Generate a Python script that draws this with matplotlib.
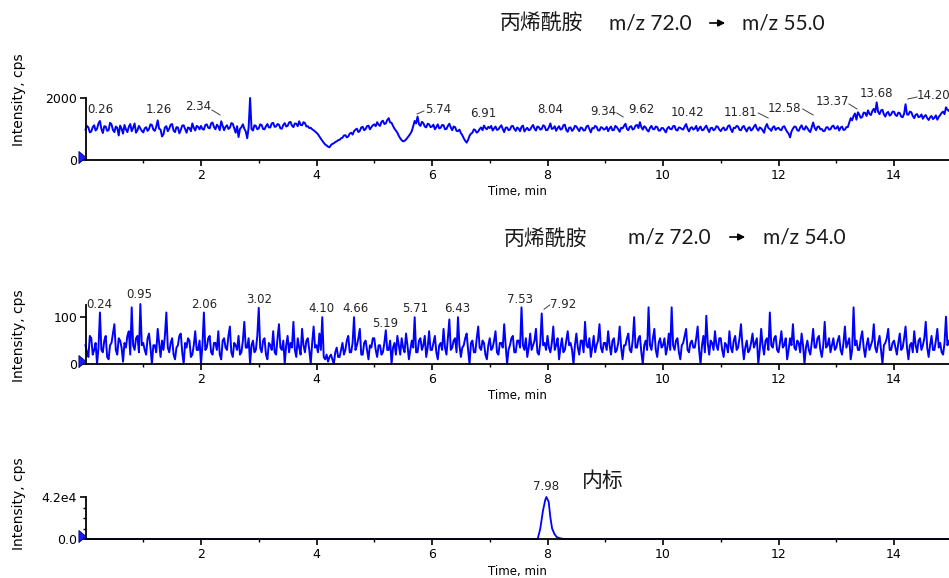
import numpy as np
import matplotlib
matplotlib.use('Agg')
import matplotlib.pyplot as plt
from matplotlib.patches import FancyArrowPatch
from matplotlib.ticker import FixedLocator
import matplotlib.transforms as mtransforms

# ---------------- data ----------------
DT = 0.025  # min, sampling interval of the typed traces (one row = 0.5 min)

trace1 = [  # m/z 72.0 -> 55.0, cps
    980, 1100, 1050, 890, 920, 1060, 1120, 950, 1010, 1180, 1260, 1000, 870, 1090, 1080, 940, 960, 1200, 1150, 970,
    900, 1080, 1040, 790, 1110, 1010, 850, 1130, 990, 900, 1070, 1160, 930, 1040, 1180, 880, 960, 1100, 1020, 940,
    890, 1020, 1060, 940, 1000, 1150, 1130, 980, 940, 1070, 1280, 1010, 980, 760, 830, 1050, 1090, 930, 1010, 1140,
    1160, 950, 900, 1060, 1050, 860, 970, 1110, 1120, 1000, 880, 1050, 1030, 930, 1180, 1040, 950, 1100, 1070, 990,
    1100, 1000, 980, 1130, 1150, 1040, 1020, 1180, 1210, 1060, 990, 1140, 1080, 960, 1250, 1110, 960, 1070, 1120, 1000,
    1040, 1190, 1170, 1030, 880, 1090, 740, 1000, 1060, 1150, 1010, 920, 700, 1050, 2000, 1000, 950, 1120, 1100, 990,
    1020, 1150, 1130, 1000, 990, 1090, 1160, 1050, 1050, 1180, 1200, 1070, 1080, 1160, 1140, 1020, 1010, 1130, 1190, 1080,
    1100, 1210, 1230, 1110, 1060, 1180, 1170, 1090, 1250, 1130, 1120, 1220, 1190, 1080, 1090, 1030, 1040, 990, 960, 920,
    880, 830, 760, 690, 620, 560, 500, 470, 430, 410, 480, 520, 540, 580, 600, 640, 650, 700, 720, 790,
    800, 730, 760, 850, 880, 820, 930, 980, 1010, 900, 940, 1050, 1070, 960, 1000, 1090, 1110, 990, 1060, 1120,
    1150, 1090, 1220, 1140, 1100, 1230, 1270, 1160, 1180, 1290, 1350, 1210, 1200, 1100, 1010, 950, 880, 780, 700, 640,
    600, 620, 660, 720, 780, 850, 930, 1100, 1260, 1180, 1400, 1150, 1100, 1230, 1190, 1080, 1050, 1170, 1150, 1060,
    1080, 1140, 990, 1060, 1150, 1020, 1040, 1130, 1120, 990, 1000, 1100, 1170, 1050, 960, 1080, 1060, 940, 930, 980,
    870, 800, 700, 620, 560, 650, 780, 850, 880, 990, 960, 880, 920, 1000, 1050, 960, 1110, 1030, 990, 1070,
    1030, 1100, 950, 1020, 1080, 970, 990, 1060, 1120, 1000, 900, 1040, 1050, 960, 980, 1090, 1100, 1000, 940, 1050,
    1010, 930, 1070, 1110, 920, 990, 1040, 960, 980, 1070, 1130, 1010, 950, 1080, 1060, 980, 1000, 1120, 1090, 960,
    970, 1060, 1180, 1000, 1020, 1090, 940, 1030, 1090, 980, 1000, 1120, 1140, 970, 910, 1040, 1050, 940, 990, 1100,
    1080, 1000, 930, 1050, 1030, 950, 960, 1080, 1110, 1000, 890, 1030, 1020, 1100, 1070, 960, 950, 1060, 1040, 980,
    1000, 1070, 930, 1020, 1080, 960, 970, 1100, 1060, 990, 910, 1040, 1020, 1100, 1170, 1000, 960, 1070, 1090, 980,
    1010, 1110, 1130, 1030, 1220, 1060, 980, 1090, 1050, 960, 920, 1040, 1100, 1000, 990, 1080, 1060, 950, 950, 1030,
    1030, 960, 890, 1020, 1070, 1000, 990, 1090, 1100, 970, 950, 1050, 1040, 1000, 980, 1080, 1160, 1010, 920, 1030,
    1060, 980, 1010, 1100, 940, 1020, 1080, 960, 970, 1050, 1110, 990, 900, 1030, 1040, 960, 990, 1090, 1070, 980,
    930, 1010, 1050, 960, 980, 1090, 1120, 990, 900, 1040, 1030, 1100, 1080, 970, 960, 1060, 1100, 1000, 920, 1030,
    1060, 950, 990, 1080, 1140, 1010, 950, 1050, 1020, 960, 880, 1070, 1160, 1030, 1000, 940, 1050, 1090, 970, 1020,
    1040, 980, 960, 1070, 1090, 990, 910, 850, 730, 920, 1010, 1080, 1070, 960, 940, 1050, 1120, 1000, 980, 1090,
    1030, 950, 900, 1060, 1210, 1040, 960, 1070, 1080, 990, 1000, 930, 940, 1050, 1060, 980, 990, 1080, 1110, 1010,
    1020, 1090, 950, 1040, 1080, 970, 980, 1060, 1060, 1200, 1350, 1280, 1420, 1500, 1300, 1540, 1460, 1360, 1390, 1530,
    1520, 1420, 1600, 1490, 1450, 1580, 1650, 1540, 1860, 1550, 1480, 1600, 1620, 1470, 1400, 1520, 1550, 1430, 1470, 1560,
    1560, 1450, 1420, 1530, 1510, 1400, 1380, 1490, 1800, 1470, 1460, 1560, 1540, 1420, 1350, 1460, 1480, 1380, 1400, 1470,
    1330, 1410, 1450, 1350, 1290, 1380, 1420, 1320, 1360, 1440, 1300, 1390, 1450, 1520, 1560, 1480, 1700, 1620, 1580, 1660,
]

trace2 = [  # m/z 72.0 -> 54.0, cps
    40, 25, 15, 60, 55, 20, 30, 45, 0, 35, 110, 30, 25, 50, 60, 15, 10, 40, 45, 65,
    85, 30, 20, 55, 50, 35, 5, 45, 35, 60, 70, 20, 121, 40, 30, 55, 60, 25, 128, 40,
    45, 30, 20, 55, 65, 35, 0, 40, 40, 25, 75, 45, 15, 50, 30, 60, 110, 35, 25, 45,
    55, 20, 10, 35, 40, 60, 65, 25, 0, 45, 35, 55, 50, 15, 20, 40, 70, 30, 30, 50,
    0, 40, 110, 30, 35, 55, 60, 25, 20, 45, 45, 30, 70, 20, 10, 50, 55, 35, 30, 60,
    80, 25, 15, 45, 40, 30, 60, 20, 25, 50, 90, 35, 35, 55, 0, 40, 50, 25, 30, 60,
    120, 35, 25, 50, 55, 20, 10, 45, 40, 30, 70, 25, 20, 55, 85, 35, 30, 50, 0, 40,
    60, 25, 45, 35, 90, 30, 15, 55, 35, 20, 75, 40, 25, 50, 55, 30, 0, 45, 80, 35,
    40, 25, 65, 30, 100, 15, 10, 20, 5, 15, 20, 10, 0, 25, 35, 15, 15, 30, 45, 20,
    30, 50, 60, 25, 25, 45, 100, 30, 40, 55, 75, 20, 20, 45, 50, 30, 10, 40, 35, 55,
    55, 30, 15, 40, 40, 20, 25, 45, 72, 30, 30, 50, 0, 35, 45, 20, 60, 40, 20, 55,
    35, 25, 65, 40, 10, 30, 50, 35, 100, 25, 25, 50, 55, 30, 40, 60, 15, 35, 70, 30,
    30, 45, 60, 25, 10, 40, 45, 30, 75, 35, 20, 55, 95, 30, 35, 50, 55, 25, 100, 40,
    15, 35, 40, 55, 65, 30, 0, 45, 50, 25, 25, 55, 80, 35, 30, 50, 45, 20, 10, 40,
    55, 30, 35, 50, 70, 25, 20, 45, 45, 35, 85, 40, 0, 30, 40, 55, 60, 25, 25, 50,
    50, 35, 121, 40, 30, 55, 15, 35, 65, 30, 40, 50, 75, 25, 20, 45, 108, 40, 45, 30,
    60, 35, 25, 45, 80, 30, 40, 55, 10, 35, 55, 25, 30, 50, 70, 40, 45, 30, 0, 40,
    65, 35, 20, 50, 50, 25, 90, 40, 35, 55, 15, 35, 60, 25, 40, 50, 85, 35, 25, 45,
    45, 30, 70, 40, 20, 50, 55, 25, 30, 45, 80, 35, 10, 40, 40, 55, 65, 30, 25, 50,
    100, 35, 35, 55, 60, 25, 0, 40, 50, 30, 121, 40, 30, 55, 75, 30, 15, 45, 55, 35,
    40, 55, 20, 35, 65, 30, 121, 40, 30, 50, 55, 25, 10, 40, 45, 60, 75, 30, 25, 45,
    50, 35, 35, 55, 80, 30, 0, 40, 60, 25, 103, 45, 20, 50, 45, 30, 70, 40, 30, 55,
    55, 30, 15, 45, 40, 25, 70, 35, 25, 50, 60, 30, 35, 55, 85, 40, 10, 35, 50, 25,
    30, 45, 65, 35, 45, 55, 0, 30, 75, 40, 20, 50, 55, 30, 110, 40, 35, 55, 60, 30,
    25, 45, 70, 35, 40, 55, 10, 30, 55, 40, 85, 35, 30, 50, 45, 25, 65, 40, 0, 35,
    50, 30, 20, 45, 75, 35, 35, 55, 60, 30, 15, 40, 90, 35, 40, 55, 25, 40, 55, 30,
    35, 50, 60, 30, 20, 45, 80, 35, 45, 55, 10, 30, 121, 40, 50, 30, 30, 55, 70, 35,
    15, 40, 55, 30, 40, 50, 85, 35, 25, 45, 60, 30, 0, 40, 45, 55, 75, 30, 30, 45,
    50, 35, 20, 45, 65, 30, 35, 55, 80, 35, 10, 40, 45, 25, 70, 40, 25, 50, 55, 30,
    40, 55, 90, 35, 15, 40, 60, 30, 30, 50, 75, 35, 45, 25, 20, 45, 101, 40, 50, 35,
]

is_time = [0.0, 7.80, 7.83, 7.875, 7.92, 7.96, 7.98, 8.02, 8.05, 8.08, 8.12, 8.16, 8.22, 8.28, 15.0]
is_value = [0, 0, 0, 10400, 27800, 38800, 42000, 37300, 21500, 10400, 5000, 1900, 700, 0, 0]

# retention-time labels
rt1 = [0.26, 1.26, 2.34, 5.74, 6.91, 8.04, 9.34, 9.62, 10.42, 11.81, 12.58, 13.37, 13.68, 14.20]
rt2 = [0.24, 0.95, 2.06, 3.02, 4.10, 4.66, 5.19, 5.71, 6.43, 7.53, 7.92]
rt3 = [7.98]

title_cn = "丙烯酰胺"
title_tr1 = ("m/z 72.0", "m/z 55.0")
title_tr2 = ("m/z 72.0", "m/z 54.0")
title_is = "内标"

# ---------------- layout (label placement) ----------------
lab1_pos = [(0.25, 1613), (1.27, 1613), (1.95, 1710), (6.10, 1645), (6.88, 1516), (8.04, 1645),
            (8.96, 1580), (9.62, 1645), (10.43, 1548), (11.35, 1548), (12.11, 1677), (12.93, 1871),
            (13.69, 2161), (14.40, 2065)]
lead1 = {2: ((2.19, 1613), (2.33, 1452)), 3: ((5.74, 1484), (5.86, 1581)),
         6: ((9.20, 1516), (9.31, 1387)), 9: ((11.65, 1516), (11.82, 1355)),
         10: ((12.42, 1645), (12.60, 1452)), 11: ((13.22, 1806), (13.36, 1645)),
         13: ((14.24, 1968), (14.40, 2032))}
lab2_pos = [(0.235, 126), (0.93, 149), (2.05, 128), (3.00, 138), (4.08, 119), (4.67, 119),
            (5.19, 87), (5.71, 119), (6.43, 119), (7.52, 138), (8.27, 126)]
lead2 = {10: ((7.94, 117), (8.04, 126))}
lab3_pos = [(7.97, 53000)]

W, H = 949, 578
fig = plt.figure(figsize=(W / 100, H / 100), dpi=100)

CJK = ['Noto Sans CJK SC', 'DejaVu Sans']
LAT = ['Lato', 'DejaVu Sans']
BLUE = '#0000FF'
TXT = '#262626'
X0 = 85.5
XMAX = (W - X0) / 57.75


def make_ax(top_px, bot_px, ymax, yticks, yticklabels, yminor, ylab_y):
    ax = fig.add_axes([X0 / W, 1 - bot_px / H, 1 - X0 / W, (bot_px - top_px) / H])
    ax.set_xlim(0, XMAX)
    ax.set_ylim(0, ymax)
    for s in ('top', 'right'):
        ax.spines[s].set_visible(False)
    for s in ('left', 'bottom'):
        ax.spines[s].set_linewidth(1.3)
    ax.xaxis.set_major_locator(FixedLocator([2, 4, 6, 8, 10, 12, 14]))
    ax.xaxis.set_minor_locator(FixedLocator([1, 3, 5, 7, 9, 11, 13, 15]))
    ax.set_yticks(yticks)
    ax.set_yticklabels(yticklabels)
    if yminor:
        ax.yaxis.set_minor_locator(FixedLocator(yminor))
    ax.tick_params(axis='x', which='major', direction='out', length=4, width=1.2, pad=2.5,
                   labelsize=9, labelcolor='black')
    ax.tick_params(axis='x', which='minor', direction='out', length=2.5, width=1.0)
    ax.tick_params(axis='y', which='major', direction='out', length=4, width=1.2, pad=2,
                   labelsize=9, labelcolor='black')
    ax.tick_params(axis='y', which='minor', direction='out', length=2.5, width=1.0)
    ax.set_xlabel('Time, min', fontsize=8.5, color='black')
    ax.xaxis.label.set_va('center')
    h = bot_px - top_px
    ax.xaxis.set_label_coords(0.5, -(32 if h > 50 else 33) / h)
    ax.set_ylabel('Intensity, cps', fontsize=10, color='black')
    ax.yaxis.label.set_va('center')
    ax.yaxis.set_label_coords((19 - X0) / (W - X0), ylab_y)
    # start marker
    tri = [(-0.6, -1), (0.6, 0), (-0.6, 1), (-0.6, -1)]
    ax.plot([0], [0], marker=tri, ms=8.6, color='#1a1aff', mec='#00007a', mew=0.6,
            clip_on=False, zorder=5,
            transform=mtransforms.offset_copy(ax.transData, fig, x=-4, y=3, units='dots'))
    return ax


def put_labels(ax, rts, pos, leads, last_left=False):
    for i, (rt, (x, y)) in enumerate(zip(rts, pos)):
        ha = 'left' if (last_left and i == len(rts) - 1) else 'center'
        ax.text(x, y, f"{rt:.2f}", fontsize=8.5, color=TXT, ha=ha, va='center', clip_on=False)
        if i in leads:
            (xa, ya), (xb, yb) = leads[i]
            ax.plot([xa, xb], [ya, yb], color='#404040', lw=0.7, clip_on=False)


def put_title(y_cn, y_mz, x_cn, x_mz1, x_arr, x_mz2, tr):
    fig.text(x_cn / W, 1 - y_cn / H, title_cn, family=CJK, fontsize=15, ha='left', va='center',
             color='#1a1a1a')
    fig.text(x_mz1 / W, 1 - y_mz / H, tr[0], family=LAT, fontsize=15, ha='left', va='center',
             color='#1a1a1a')
    fig.text(x_mz2 / W, 1 - y_mz / H, tr[1], family=LAT, fontsize=15, ha='left', va='center',
             color='#1a1a1a')
    arr = FancyArrowPatch((x_arr[0] / W, 1 - y_mz / H), (x_arr[1] / W, 1 - y_mz / H),
                          transform=fig.transFigure, arrowstyle='-|>,head_length=4,head_width=2',
                          lw=1.2, color='black', mutation_scale=1)
    fig.add_artist(arr)


# ---- panel 1 ----
t1 = np.arange(len(trace1)) * DT
ax1 = make_ax(98, 160, 2000, [0, 2000], ['0', '2000'], None, 0.968)
ax1.plot(t1, trace1, color=BLUE, lw=1.4, clip_on=False, zorder=2)
put_labels(ax1, rt1, lab1_pos, lead1, last_left=True)
put_title(24, 23, 500, 609, (707, 728), 742, title_tr1)

# ---- panel 2 ----
t2 = np.arange(len(trace2)) * DT
ax2 = make_ax(305, 364, 126, [0, 100], ['0', '100'], None, 0.475)
ax2.plot(t2, trace2, color=BLUE, lw=1.4, clip_on=False, zorder=2)
put_labels(ax2, rt2, lab2_pos, lead2)
put_title(240, 237, 504, 628, (727, 748), 763, title_tr2)

# ---- panel 3 ----
ax3 = make_ax(497, 539, 42000, [0, 42000], ['0.0', '4.2e4'], [10500, 21000, 31500], 0.833)
ax3.plot(is_time, is_value, color=BLUE, lw=1.3, clip_on=False, zorder=2)
put_labels(ax3, rt3, lab3_pos, {})
fig.text(582 / W, 1 - 481 / H, title_is, family=CJK, fontsize=15, ha='left', va='center',
         color='#1a1a1a')

fig.savefig('out.png', dpi=100)
